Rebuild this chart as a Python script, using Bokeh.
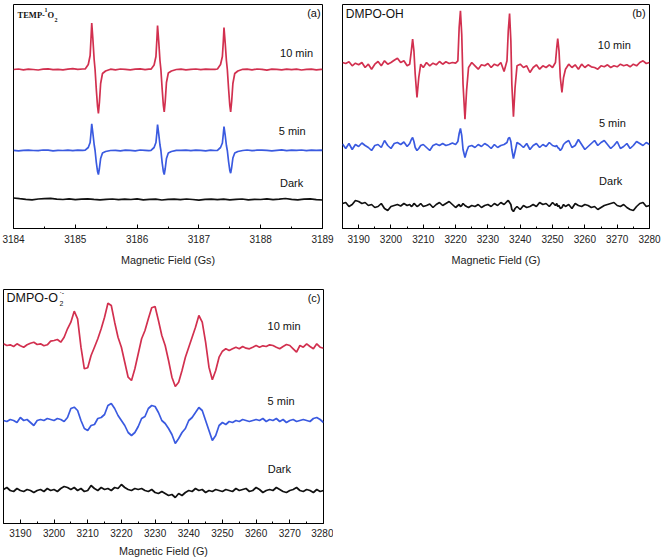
from bokeh.plotting import figure
from bokeh.models import Range1d, FixedTicker, Label
from bokeh.layouts import column, row
from bokeh.embed import file_html
from bokeh.resources import INLINE

RED = "#d2304f"
BLUE = "#3a5ae0"
BLACK = "#111111"

# ---------------- Panel (a): TEMP-1O2 ----------------
xa = [3184.00, 3184.08, 3184.16, 3184.24, 3184.32, 3184.40, 3184.48, 3184.56, 3184.64, 3184.72,
      3184.80, 3184.88, 3184.96, 3185.04, 3185.12,
      3185.16, 3185.21, 3185.24, 3185.255, 3185.266, 3185.285, 3185.305, 3185.32, 3185.34, 3185.36,
      3185.374, 3185.39, 3185.41, 3185.44, 3185.49, 3185.57,
      3185.65, 3185.73, 3185.81, 3185.89, 3185.97, 3186.05, 3186.13, 3186.19,
      3186.225, 3186.275, 3186.305, 3186.32, 3186.331, 3186.35, 3186.37, 3186.385, 3186.405, 3186.425,
      3186.439, 3186.455, 3186.475, 3186.505, 3186.555, 3186.635,
      3186.71, 3186.79, 3186.87, 3186.95, 3187.03, 3187.11, 3187.19, 3187.26,
      3187.30, 3187.35, 3187.38, 3187.395, 3187.406, 3187.425, 3187.445, 3187.46, 3187.48, 3187.50,
      3187.514, 3187.53, 3187.55, 3187.58, 3187.63, 3187.71,
      3187.78, 3187.86, 3187.94, 3188.02, 3188.10, 3188.18, 3188.26, 3188.34, 3188.42, 3188.50,
      3188.58, 3188.66, 3188.74, 3188.82, 3188.90, 3188.98, 3189.00]
a_10min = [0, 0.5, -0.3, 0.4, 0, -0.5, 0.3, 0.6, -0.2, 0.2, -0.4, 0.3, 0.8, 0.2, 0.5,
           0.5, 5, 14, 32, 46.5, 30, 10, 0, -20, -37, -44, -33, -14, -4, -1.5, 0.3,
           -0.3, 0.5, 0.2, -0.4, 0.3, 0.6, -0.2, 0.4,
           0.3, 4.5, 13, 30, 44, 28, 9, 0, -19, -36, -42.3, -32, -13, -3.5, -1.5, 0,
           0.4, -0.3, 0.2, 0.5, -0.2, 0.3, 0.1, 0.2,
           0.5, 5, 13, 28, 42, 27, 9, 0, -19, -36, -42.3, -32, -14, -4, -1.5, 0.2,
           0.3, -0.4, 0.5, 0.2, -0.6, 0.3, 0.1, -0.3, 0.4, -0.2, 0.3, -0.5, 0.2, 0.4, -0.3, 0.1, 0]
a_5min = [0.2, -0.3, 0.1, 0.4, 0, -0.2, 0.5, 0.3, -0.3, 0.2, 0, 0.4, -0.2, 0.3, 0.1,
          0.3, 3, 8, 18, 26.7, 17, 6, 0, -12, -21, -24, -18, -8, -2.5, -1, 0,
          0.2, -0.3, 0.3, 0.1, -0.4, 0.5, 0.2, -0.2,
          0.2, 3, 8, 17.5, 26, 16.5, 5.5, 0, -12, -21, -24, -18, -8, -2.5, -1, 0.2,
          0.1, 0.3, -0.2, 0.4, 0.2, -0.3, 0.3, 0,
          0.2, 3, 7.5, 16.5, 24, 15.5, 5, 0, -11, -20, -22.7, -17, -7.5, -2.5, -1, 0,
          0.5, -0.2, 0.3, 0.4, 0.1, -0.3, 0.2, 0.6, -0.1, 0.3, 0.2, 0.5, -0.2, 0.4, 0.1, 0.3, 0.2]
xa_dark = [3184 + i / 10 for i in range(51)]
a_dark = [1.5, 0.8, 0.2, -0.3, 0.5, 0.9, 1.2, 0.4, 0.0, 0.6, -0.2, 0.3, 0.7, 0.1, -0.4, 0.2, 0.5,
          -0.1, 0.3, 0.0, 0.6, -0.3, 0.2, 0.4, -0.5, 0.1, 0.3, -0.2, 0.5, 0.0, -0.6, 0.2, 0.4, -0.1,
          0.3, -0.4, 0.1, 0.5, -0.3, 0.2, 0.0, 0.6, -0.2, 0.3, 1.0, 0.1, -0.3, 0.4, 0.7, -0.2, -0.5]
a_ticks = [3184, 3185, 3186, 3187, 3188, 3189]
a_minor = [3184.5, 3185.5, 3186.5, 3187.5, 3188.5]

# ---------------- Panel (b): DMPO-OH ----------------
xb = (list(range(3185, 3206))
      + [3205.8, 3206.3, 3206.7, 3207.1, 3207.5, 3208.05, 3208.6, 3209.2]
      + list(range(3210, 3221))
      + [3220.7, 3221.1, 3221.5, 3221.9, 3222.3, 3222.9, 3223.4]
      + list(range(3224, 3236))
      + [3235.9, 3236.3, 3236.7, 3237.1, 3237.4, 3237.9, 3238.4]
      + list(range(3239, 3251))
      + [3250.9, 3251.3, 3251.6, 3252.0, 3252.4, 3252.9, 3253.4]
      + list(range(3254, 3281)))
b_10min = [1, 0, 1.7, -2.3, 0.3, -1.3, 1, -4, -0.7, -5.7, -0.7, 2, -2.3, 2.7, -0.7, 1, 3.3, 5.3, 1, 2.7, -2.3,
           -0.7, 12.7, 24.3, 12.7, -10.7, -34, -14, -0.7,
           -4, 1, -2.3, 0.3, -1.3, 2, -0.7, 1.7, 0, 1, 0.3,
           2.7, 36, 52.7, 29, -20.7, -55.7, -27,
           -4, 1, -2.3, -5.7, -1.3, -2.3, 0, -4, -0.7, -2.3, 1, -8,
           2.7, 32.7, 50, 22.7, -20.7, -53.3, -24,
           -2.3, -0.7, -4, -2.3, -9, -4, -1.3, -5.7, -2.3, -4, -1.3, -4,
           1, 16, 25, 12.7, -14, -29, -14,
           -5.7, -0.7, -4, -1.3, -5.7, -0.7, -4, -1.3, -3.3, -4, -5.7, -2.3, -3.3, -1.3, -4, -2.3,
           -3.3, -0.7, -2.3, -1.3, -3.3, -0.7, -2.3, 1, 2.7, 0, 1]
b_5min = [1.5, -3, 2, -4, 1, -1, 2.5, 0, -2, -5, 0, 1, -2, 5, 0, -3, 2, 3, 1, 3.5, -1,
          2, 6, 8, 4, -2, -5, -3, 0,
          1, -2, -5, 0, 1.5, 0, 2, 0, 1, 2.5, 1,
          4, 12, 17, 10, -4, -12, -6,
          -1, 0, -2, 1, -1, 2, 0, -3, 1, -2, 0, 1,
          3, 7, 8, 4, -4, -13, -6,
          3, 1, -2, 2, -4, 0, 2, -2, 1, -1, 3, 0,
          -1, 0, -2, -3, -5, -3, 1,
          3, 5, -2, 0, 6, 1, -4, -1, 2, 5, 0, 3, 5, 1, -3, 0, 4, -3, -1, 2, -3, 0, 4, 2, 0, 3, 1]
b_dark = [2, 3, -1, 1, 5, 4, 2, 3, 0, 1, -2, -1, 2, -3, -5, -1, 0, 1, -0.5, 2, 0,
          1, -1, 0, 2, 1, -1, 0, 2,
          -1, 0, 1.5, -2, 1, 3, 0, 2, 4, 1, -2,
          0, 1, -1, 0, 2, 0, -1,
          -2, 0, -1, 1, -2, 0, 1, -1, 2, 0, 3, 1,
          4, 5, 3, 1, -4, -6, -3,
          -1, -4, 0, -2, -1, 1, -1, 3, 1, 2, -1, 3,
          0, 2, -1, 0, -3, -2, 1,
          -1, 1, -3, 2, 0, -1, 1, 0, -2, -1, -4, -2, 0, 1, 2, 3, 0, -1, 1, -2, -4, -5, -1, 2, 3, -1, 0]
bc_ticks = [3190, 3200, 3210, 3220, 3230, 3240, 3250, 3260, 3270, 3280]
bc_minor = [3185, 3195, 3205, 3215, 3225, 3235, 3245, 3255, 3265, 3275]

# ---------------- Panel (c): DMPO-O2- ----------------
xc = list(range(3185, 3281))
c_10min = [1.7, 0, 0.7, -1, 1.7, -0.3, -1.7, 0.7, 2.3, 3.3,
           1, 1.7, -0.3, 0.7, 4.3, 5, 6, 3.3, 8.3, 16.7,
           23.3, 34.3, 26.7, -1.7, -23.3, -22.3, -10, -1.7, 6.7, 16.7,
           28.3, 42.3, 40, 23.3, 8.3, -1.7, -16.7, -31.7, -35, -23.3,
           -8.3, 6.7, 15, 26.7, 37.7, 39, 25, 10, 0, -15,
           -31.7, -41, -36.7, -25, -11.7, -1.7, 8.3, 18.3, 30, 23.3,
           3.3, -21.7, -34.3, -25, -11.7, -5.7, -3.3, -5, -3.3, -1.7,
           -3.3, -1, -2.7, -3.3, -1.7, 0, -1.7, -0.3, -1, 0.7,
           0, -1.7, -3.3, -1, 1, 0, -3.3, -6.7, 0, -1.7,
           1.7, -1, -3.3, 1.7, -1.7, -2.7]
c_5min = [0, -1, 1, 0, -2, 3, 0, 1, -2, -5,
          0, 1, 0, 2, 1, 0, 2, 1, -1, 3,
          12, 13.3, 10, 0, -8, -10, -5, -4, 2, 3,
          6, 15, 17, 12, 5, 0, -5, -12, -15, -12,
          -6, 2, 4, 12, 15, 14, 8, 0, -3, -8,
          -14, -23, -18, -12, -8, 0, 3, 8, 13, 10,
          0, -10, -20, -15, -5, -2, -4, -1, -2, 0,
          -1, 1, 0, -1, 0, 1, 0, 2, -1, 1,
          0, 2, -1, 1, -2, 0, 1, -1, 0, 1,
          0, -1, 2, 3, 1, -2]
c_dark = [1, 3, 0, -1, 2, 0, -1, 1, 0, -2,
          0, 1, -1, 2, 0, 1, -1, 2, 4, 3,
          1, 3, 0, 2, -1, 0, 5, 2, 0, 3,
          1, 2, 0, 3, 2, 6, 3, 1, 0, 2,
          1, 2, 0, -1, 1, -2, -3, -1, -3, -5,
          -4, -7, -3, -5, -2, 0, -1, 2, 0, 1,
          -2, 0, -1, 1, 0, -1, 1, 0, -1, 2,
          0, 1, 2, -1, 0, 3, 1, -2, 0, 1,
          0, 3, 1, -1, -2, 0, 1, 3, 0, -1,
          1, 0, -2, 1, -1, 0]

series_labels = ["10 min", "5 min", "Dark"]

assert len(xa) == len(a_10min) == len(a_5min)
assert len(xa_dark) == len(a_dark)
assert len(xb) == len(b_10min) == len(b_5min) == len(b_dark)
assert len(xc) == len(c_10min) == len(c_5min) == len(c_dark)

SANS = "Liberation Sans"


def make_fig(xr, yr, ticks, minor, title, fw, fh, bl, br, bt, bb, lstand, tstand):
    p = figure(x_range=Range1d(*xr), y_range=Range1d(*yr), frame_width=fw, frame_height=fh,
               min_border_left=bl, min_border_right=br, min_border_top=bt, min_border_bottom=bb,
               output_backend="svg", toolbar_location=None, y_axis_location=None)
    p.xgrid.visible = False
    p.ygrid.visible = False
    p.outline_line_color = "black"
    p.outline_line_alpha = 1
    p.outline_line_width = 1
    p.background_fill_color = "white"
    p.border_fill_color = "white"
    ax = p.xaxis[0]
    ax.ticker = FixedTicker(ticks=ticks, minor_ticks=minor)
    ax.major_tick_in = 4
    ax.major_tick_out = 0
    ax.minor_tick_in = 2
    ax.minor_tick_out = 0
    ax.axis_line_color = "black"
    ax.major_tick_line_color = "black"
    ax.minor_tick_line_color = "black"
    ax.major_label_text_font = SANS
    ax.major_label_text_font_size = "10px"
    ax.major_label_text_color = "#222222"
    ax.major_label_standoff = lstand
    ax.axis_label = title
    ax.axis_label_text_font = SANS
    ax.axis_label_text_font_size = "10.8px"
    ax.axis_label_text_font_style = "normal"
    ax.axis_label_text_color = "#222222"
    ax.axis_label_standoff = tstand
    return p


def lab(p, x, y, text, size="11px", font=SANS, align="center", style="normal"):
    p.add_layout(Label(x=x, y=y, text=text, text_font=font, text_font_size=size,
                       text_align=align, text_baseline="middle", text_font_style=style,
                       text_color="#111111"))


# Panel a
pa = make_fig((3184, 3189), (0, 224), a_ticks, a_minor, "Magnetic Field (Gs)",
              309, 224, 13, 14, 4, 50, 6, 8)
offs_a = [159, 78, 29]
pa.line(xa, [offs_a[0] + v for v in a_10min], color=RED, line_width=1.7)
pa.line(xa, [offs_a[1] + v for v in a_5min], color=BLUE, line_width=1.7)
pa.line(xa_dark, [offs_a[2] + v for v in a_dark], color=BLACK, line_width=1.7)
lab(pa, 3188.58, 176, series_labels[0])
lab(pa, 3188.51, 98, series_labels[1])
lab(pa, 3188.50, 46, series_labels[2])
lab(pa, 3188.97, 216, "(a)", align="right")
lab(pa, 3184.065, 214, "TEMP-", size="8.5px", font="Liberation Serif", align="left", style="bold")
lab(pa, 3184.50, 219, "1", size="6px", font="Liberation Serif", align="left", style="bold")
lab(pa, 3184.55, 214, "O", size="8.5px", font="Liberation Serif", align="left", style="bold")
lab(pa, 3184.665, 209, "2", size="6px", font="Liberation Serif", align="left", style="bold")

# Panel b
pb = make_fig((3185, 3280), (0, 224), bc_ticks, bc_minor, "Magnetic Field (G)",
              307, 224, 6, 12, 4, 50, 6, 8)
offs_b = [165, 83, 23]
pb.line(xb, [offs_b[0] + v for v in b_10min], color=RED, line_width=1.7)
pb.line(xb, [offs_b[1] + v for v in b_5min], color=BLUE, line_width=1.7)
pb.line(xb, [offs_b[2] + v for v in b_dark], color=BLACK, line_width=1.7)
lab(pb, 3269.1, 184, series_labels[0])
lab(pb, 3268.5, 106, series_labels[1])
lab(pb, 3268.0, 48, series_labels[2])
lab(pb, 3278.8, 216, "(b)", align="right")
lab(pb, 3186.0, 215, "DMPO-OH", size="12px", align="left")

# Panel c
pc = make_fig((3185, 3280), (0, 234), bc_ticks, bc_minor, "Magnetic Field (G)",
              320, 234, 3, 10, 11, 30, 5, 5)
offs_c = [178, 103, 33]
pc.line(xc, [offs_c[0] + v for v in c_10min], color=RED, line_width=1.7)
pc.line(xc, [offs_c[1] + v for v in c_5min], color=BLUE, line_width=1.7)
pc.line(xc, [offs_c[2] + v for v in c_dark], color=BLACK, line_width=1.7)
lab(pc, 3268.3, 198, series_labels[0])
lab(pc, 3267.4, 123, series_labels[1])
lab(pc, 3266.9, 55, series_labels[2])
lab(pc, 3279.1, 226, "(c)", align="right")
lab(pc, 3185.9, 226, "DMPO-O", size="12.5px", align="left")
lab(pc, 3201.6, 220, "2", size="7px", align="left")
lab(pc, 3201.6, 231, "\u00b7-", size="7px", align="left")

layout = column(row(pa, pb), pc)
open("out.html", "w").write(file_html(layout, INLINE))
